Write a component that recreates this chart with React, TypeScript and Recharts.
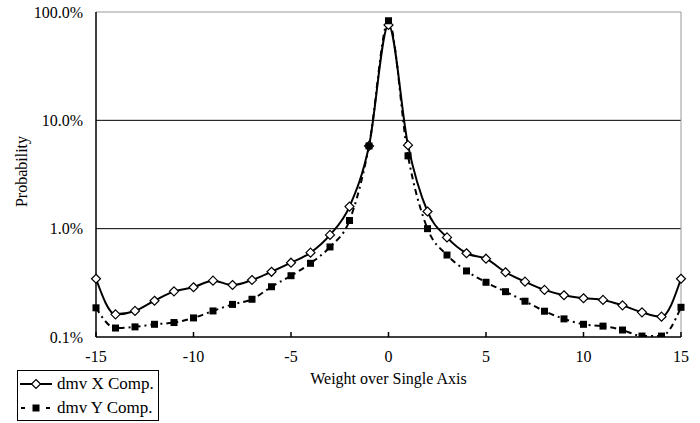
import React from 'react';
import { LineChart, Line, XAxis, YAxis, CartesianGrid, ReferenceLine } from 'recharts';

const weights = [-15, -14, -13, -12, -11, -10, -9, -8, -7, -6, -5, -4, -3, -2, -1, 0, 1, 2, 3, 4, 5, 6, 7, 8, 9, 10, 11, 12, 13, 14, 15];
const dmvX = [0.345, 0.162, 0.174, 0.216, 0.264, 0.288, 0.331, 0.302, 0.336, 0.40, 0.485, 0.60, 0.875, 1.6, 5.8, 76, 5.9, 1.44, 0.83, 0.593, 0.528, 0.396, 0.324, 0.272, 0.243, 0.228, 0.22, 0.196, 0.169, 0.154, 0.345];
const dmvY = [0.186, 0.121, 0.124, 0.131, 0.136, 0.15, 0.174, 0.2, 0.223, 0.291, 0.368, 0.479, 0.678, 1.19, 5.8, 83, 4.7, 1.0, 0.571, 0.407, 0.32, 0.262, 0.214, 0.173, 0.147, 0.131, 0.126, 0.116, 0.102, 0.102, 0.188];
const xTicks = [-15, -10, -5, 0, 5, 10, 15];
const yTicks = [0.1, 1, 10, 100];
const seriesNames = ['dmv X Comp.', 'dmv Y Comp.'];

const data = weights.map((w, i) => ({ w, x: dmvX[i], y: dmvY[i] }));

const FONT = '"Liberation Serif", "Times New Roman", serif';

const Diamond = (props: any) => {
  const { cx, cy, index } = props;
  if (cx == null || cy == null) return <g key={index} />;
  return (
    <path
      key={index}
      d={`M${cx},${cy - 4.5}L${cx + 4.5},${cy}L${cx},${cy + 4.5}L${cx - 4.5},${cy}Z`}
      fill="#fff"
      stroke="#000"
      strokeWidth={1.2}
    />
  );
};

const Square = (props: any) => {
  const { cx, cy, index } = props;
  if (cx == null || cy == null) return <g key={index} />;
  return <rect key={index} x={cx - 3.5} y={cy - 3.5} width={7} height={7} fill="#000" />;
};

const YLabel = (props: any) => {
  const vb = props.viewBox || {};
  const x = (vb.x || 0) + 21;
  const y = (vb.y || 0) + (vb.height || 0) / 2 - 3;
  return (
    <text x={x} y={y} transform={`rotate(-90, ${x}, ${y})`} textAnchor="middle" dominantBaseline="central" fontFamily={FONT} fontSize={16} fill="#000">
      Probability
    </text>
  );
};

const Legend = () => (
  <div
    style={{
      position: 'absolute',
      left: 17,
      top: 370,
      width: 140,
      height: 49,
      border: '1px solid #000',
      background: '#fff',
      fontFamily: FONT,
      fontSize: 17,
      color: '#000',
    }}
  >
    <div style={{ position: 'absolute', left: 0, top: 2, height: 22, display: 'flex', alignItems: 'center' }}>
      <svg width={38} height={22}>
        <line x1={2} y1={11} x2={34} y2={11} stroke="#000" strokeWidth={2} />
        <path d="M18,6.5L22.5,11L18,15.5L13.5,11Z" fill="#fff" stroke="#000" strokeWidth={1.2} />
      </svg>
      <span style={{ marginLeft: 1 }}>{seriesNames[0]}</span>
    </div>
    <div style={{ position: 'absolute', left: 0, top: 26, height: 22, display: 'flex', alignItems: 'center' }}>
      <svg width={38} height={22}>
        <line x1={3} y1={11} x2={7} y2={11} stroke="#000" strokeWidth={2} />
        <rect x={14.5} y={7.5} width={7} height={7} fill="#000" />
        <line x1={28} y1={11} x2={32} y2={11} stroke="#000" strokeWidth={2} />
      </svg>
      <span style={{ marginLeft: 1 }}>{seriesNames[1]}</span>
    </div>
  </div>
);

export default function App() {
  return (
    <div style={{ position: 'absolute', left: 0, top: 0, width: 700, height: 423, background: '#fff' }}>
      <LineChart width={700} height={423} data={data} margin={{ top: 12, right: 19, left: 0, bottom: 56 }}>
        <CartesianGrid horizontal vertical={false} horizontalValues={[1, 10]} stroke="#000" strokeWidth={1} />
        <ReferenceLine y={100} stroke="#999" strokeWidth={1} />
        <ReferenceLine x={15} stroke="#999" strokeWidth={1} />
        <XAxis
          dataKey="w"
          type="number"
          domain={[-15, 15]}
          ticks={xTicks}
          interval={0}
          height={30}
          stroke="#000"
          strokeWidth={1.5}
          tickSize={-5}
          tickMargin={19}
          tick={{ fill: '#000', fontFamily: FONT, fontSize: 16 }}
          label={{ value: 'Weight over Single Axis', position: 'bottom', offset: 6, fill: '#000', fontFamily: FONT, fontSize: 16 }}
        />
        <YAxis
          scale="log"
          type="number"
          domain={[0.1, 100]}
          allowDataOverflow
          ticks={yTicks}
          interval={0}
          width={96}
          stroke="#000"
          strokeWidth={1.5}
          tickLine={false}
          tickMargin={7}
          tickFormatter={(v: number) => `${v.toFixed(1)}%`}
          tick={{ fill: '#000', fontFamily: FONT, fontSize: 16 }}
          label={<YLabel />}
        />
        <Line
          dataKey="x"
          type="monotone"
          stroke="#000"
          strokeWidth={2}
          dot={<Diamond />}
          activeDot={false}
          isAnimationActive={false}
        />
        <Line
          dataKey="y"
          type="monotone"
          stroke="#000"
          strokeWidth={2}
          strokeDasharray="6 4 2 4"
          dot={<Square />}
          activeDot={false}
          isAnimationActive={false}
        />
      </LineChart>
      <Legend />
    </div>
  );
}
